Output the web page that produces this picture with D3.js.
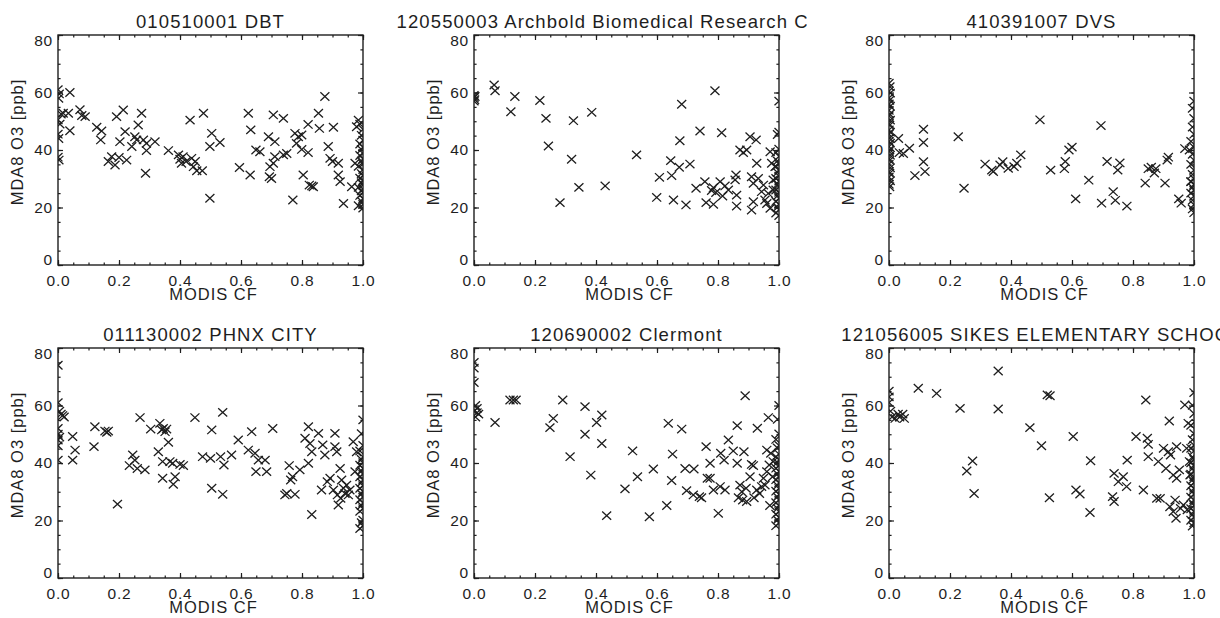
<!DOCTYPE html>
<html>
<head>
<meta charset="utf-8">
<script src="https://cdn.jsdelivr.net/npm/d3@7"></script>
<style>
  body { margin: 0; background: #fff; }
  svg text { font-family: "Liberation Sans", Arial, Helvetica, sans-serif; fill: #1e1e1e; }
  .tick-label text { font-size: 15.5px; letter-spacing: 0.8px; }
</style>
</head>
<body>
<div id="chart"></div>
<script>
// station titles, in panel order (left to right, top to bottom)
const titles = [
  "010510001 DBT",
  "120550003 Archbold Biomedical Research Center",
  "410391007 DVS",
  "011130002 PHNX CITY",
  "120690002 Clermont",
  "121056005 SIKES ELEMENTARY SCHOOL"
];

const xTicks = [0, 0.2, 0.4, 0.6, 0.8, 1.0];
const yTicks = [0, 20, 40, 60, 80];

// [MODIS CF, MDA8 O3 ppb]
const dbt = [
  [0.000,61],[0.004,59.5],[0.002,58],[0.010,52.5],[0.000,50.5],[0.006,49],[0.000,45.5],[0.002,44],[0.000,37.5],[0.003,36.5],
  [0.017,52.8],[0.034,52.8],[0.039,60],[0.039,46.7],[0.072,54],[0.078,52],[0.089,51.6],
  [0.127,47.9],[0.143,46.6],[0.140,43.5],[0.165,36],[0.176,37.7],[0.187,34.8],[0.192,51.6],[0.203,42.9],[0.200,37.4],
  [0.214,53.9],[0.220,46.4],[0.225,36.5],[0.242,41.2],[0.252,44.6],[0.263,48.7],[0.258,43.5],[0.274,52.8],[0.280,43.5],
  [0.290,42.3],[0.290,39.8],[0.287,31.9],[0.318,42.9],[0.362,39.8],[0.395,38.3],[0.400,36.8],[0.410,37.7],[0.405,35.4],
  [0.420,36],[0.433,50.4],[0.438,37.1],[0.444,34.2],[0.450,36],[0.455,32.8],[0.473,32.8],[0.477,52.8],[0.498,41.2],
  [0.498,23.2],[0.504,45.8],[0.531,42.6],[0.595,33.9],[0.624,52.8],[0.632,47],[0.630,31.3],[0.649,40],[0.662,39.4],
  [0.690,44.6],[0.693,30.7],[0.695,34.2],[0.706,52.2],[0.711,42.9],[0.711,37.7],[0.700,30.1],[0.706,35.4],[0.739,51],
  [0.739,38.3],[0.750,38.8],[0.770,22.6],[0.777,45.8],[0.788,44.6],[0.782,42.3],[0.799,45.2],[0.799,40.2],[0.804,31.3],
  [0.820,48.9],[0.820,39.1],[0.824,27.8],[0.832,27.5],[0.837,27.2],[0.854,52.8],[0.857,47.5],[0.875,58.6],[0.886,41.2],
  [0.892,37.1],[0.900,36],[0.903,47.9],[0.919,35.4],[0.919,31.3],[0.925,29],[0.936,21.4],[0.963,27.2],[0.974,35.4],
  [0.979,48.1],[0.985,50.4],
  [0.990,49],[1.000,47.2],[0.995,45.1],[1.000,43.4],[0.990,42.1],[1.000,41],[0.995,40.2],[1.000,38.8],[0.990,38.1],
  [1.000,36.9],[0.995,36.2],[1.000,35.1],[0.985,34.3],[1.000,33.2],[0.995,31.8],[1.000,31.1],[0.990,30.2],[1.000,29.4],
  [0.995,28.6],[1.000,27.9],[0.985,27],[1.000,26.4],[0.995,25.8],[1.000,25.1],[0.990,24.2],[1.000,23.1],[0.995,22.2],
  [1.000,21.1],[0.985,20.6],[1.000,19.8]
];

const archbold = [
  [0.000,59],[0.000,58.2],[0.002,57.5],[0.000,57],[0.003,58.6],
  [0.066,62.6],[0.069,60.6],[0.121,53.3],[0.134,58.6],[0.216,57.2],[0.236,51],[0.244,41.4],[0.282,21.7],[0.326,50.2],
  [0.320,36.8],[0.344,27],[0.386,53.1],[0.430,27.5],[0.533,38.3],[0.599,23.5],[0.608,30.5],[0.645,36.3],[0.648,31.1],
  [0.654,22.6],[0.673,34],[0.675,43.2],[0.681,55.9],[0.695,20.9],[0.708,35.1],[0.728,26.7],[0.741,46.6],[0.757,29],
  [0.761,21.7],[0.779,25.9],[0.785,21.1],[0.790,60.6],[0.785,26.9],[0.793,25.2],[0.807,29],[0.812,46],[0.815,24],
  [0.823,27.5],[0.834,26.1],[0.856,29.6],[0.861,20.5],[0.861,24.3],[0.859,31.3],[0.872,40],[0.883,39.1],[0.894,40],
  [0.905,44.6],[0.910,30.7],[0.910,19.1],[0.916,22],[0.916,28.4],[0.925,43.5],[0.927,35.4],[0.932,30.1],[0.943,25.5],
  [0.949,27.8],[0.954,22.6],[0.960,21.4],[0.965,24.9],[0.971,39.4],[0.971,19.7],[0.976,35.4],[0.981,29.6],[0.981,26.1],
  [0.987,34.2],
  [1.000,57],[1.000,46.2],[0.995,45.4],[1.000,40.3],[0.990,39.1],[1.000,37.8],[0.995,36.2],[1.000,35.1],[0.990,34.3],
  [1.000,33.1],[0.995,32.2],[1.000,30.9],[0.990,30.1],[1.000,29.2],[0.995,28.1],[1.000,27.2],[0.990,26.1],[1.000,25.3],
  [0.995,24.1],[1.000,23.2],[0.990,22.1],[1.000,21.2],[0.995,20.1],[1.000,19.2],[0.990,18.1],[1.000,17.2]
];

const dvs = [
  [0.000,63.2],[0.003,62],[0.000,60.5],[0.004,59.8],[0.000,58.1],[0.002,57.3],[0.000,56],[0.004,55.2],[0.000,53.8],
  [0.002,52.5],[0.000,51.9],[0.004,50.4],[0.000,49.1],[0.002,48.6],[0.000,47],[0.004,46.2],[0.000,45.5],[0.002,44.1],
  [0.000,43],[0.004,42.4],[0.000,41.2],[0.002,40.1],[0.000,39.5],[0.004,38.2],[0.000,37],[0.002,36.4],[0.000,35.1],
  [0.004,33.8],[0.000,32.5],[0.002,31.9],[0.000,30.6],[0.004,29.3],[0.000,28.1],[0.002,27.2],
  [0.031,44],[0.034,39.1],[0.047,38.8],[0.067,40.6],[0.085,31.1],[0.113,47.2],[0.113,42.6],[0.113,35.9],[0.118,32.5],
  [0.227,44.6],[0.246,26.7],[0.315,35.1],[0.337,33],[0.342,32.5],[0.364,34.8],[0.373,35.9],[0.391,33.6],[0.410,34.2],
  [0.419,35.4],[0.432,38.3],[0.495,50.5],[0.530,33],[0.575,33.5],[0.578,36],[0.590,40],[0.600,41],[0.612,23],
  [0.655,29.5],[0.695,48.5],[0.697,21.5],[0.715,36],[0.735,25.5],[0.742,22.5],[0.750,33],[0.757,35.5],[0.780,20.5],
  [0.840,28.5],[0.850,33.5],[0.860,34],[0.870,32],[0.875,33.5],[0.905,28.5],[0.912,36.5],[0.916,37.5],[0.950,23],
  [0.958,21.5],[0.970,40.5],[0.985,40],[0.990,29],
  [1.000,57],[0.995,54.5],[1.000,51],[0.995,48],[1.000,45.5],[0.990,43],[1.000,41],[0.995,38.5],[1.000,36.5],
  [0.990,35],[1.000,33],[0.995,31.5],[1.000,30],[0.990,29],[1.000,28],[0.995,27],[1.000,26],[0.990,25],[1.000,24],
  [0.995,22.5],[1.000,21],[0.995,19.5],[1.000,18.2]
];

const phnx = [
  [0.000,74],[0.000,61],[0.005,58],[0.010,57],[0.015,56.5],[0.020,56],[0.000,52],[0.000,50],[0.005,49],[0.000,48],
  [0.000,46],[0.000,41],
  [0.048,49.2],[0.048,41],[0.056,44.5],[0.118,45.7],[0.121,52.6],[0.154,51.1],[0.160,50.7],[0.165,51.1],[0.195,25.7],
  [0.234,39.1],[0.245,42.8],[0.252,41],[0.260,38.1],[0.269,55.8],[0.285,37.6],[0.304,51.8],[0.329,43.9],[0.334,53.8],
  [0.340,51.5],[0.345,52],[0.351,50.9],[0.356,51.8],[0.343,34.7],[0.343,40.5],[0.362,47.2],[0.367,40.5],[0.376,39.9],
  [0.378,32.6],[0.384,35.2],[0.400,39.5],[0.411,39.1],[0.449,55.8],[0.474,42.2],[0.500,41.6],[0.504,51.5],[0.504,31.2],
  [0.533,42.2],[0.540,57.6],[0.540,29.1],[0.544,39.3],[0.569,42.8],[0.591,48],[0.624,44.5],[0.635,50.9],[0.646,43.4],
  [0.649,37],[0.657,41],[0.679,41],[0.684,37],[0.704,52],[0.744,28.9],[0.750,29.4],[0.758,39.1],[0.763,34.1],
  [0.769,35.2],[0.777,29.1],[0.793,37.6],[0.810,48.6],[0.821,52.6],[0.821,39.9],[0.826,46.8],[0.832,43.9],[0.832,22.1],
  [0.854,50.3],[0.864,30.6],[0.868,46.3],[0.875,42.8],[0.883,33.5],[0.892,34.7],[0.903,30.6],[0.908,50.3],[0.908,45.7],
  [0.914,43.9],[0.916,28.9],[0.919,25.4],[0.925,38.1],[0.927,27.7],[0.930,34.1],[0.936,31.2],[0.941,29.4],[0.946,32.3],
  [0.952,28.9],[0.957,30.6],[0.968,47.4],[0.974,37],[0.979,43.9],
  [1.000,55],[0.995,50.2],[1.000,46.1],[0.990,44.2],[1.000,42.1],[0.995,41.2],[1.000,40.1],[0.990,39.2],[1.000,38.1],
  [0.995,37.2],[1.000,36.1],[0.990,35.2],[1.000,34.1],[0.995,33.2],[1.000,32.1],[0.990,31.2],[1.000,30.1],[0.995,29.2],
  [1.000,28.1],[0.990,27.2],[1.000,26.1],[0.995,25.2],[1.000,24.1],[0.990,23.2],[1.000,20.1],[0.995,19.2],[1.000,18.1],
  [0.990,17.2]
];

const clermont = [
  [0.000,75],[0.000,73],[0.000,68],[0.005,60],[0.010,59],[0.000,58],[0.010,57.5],[0.015,57],[0.005,56],
  [0.069,54.1],[0.118,61.9],[0.129,61.9],[0.138,61.9],[0.249,52.3],[0.260,55.5],[0.291,61.9],[0.315,42.2],[0.364,59.6],
  [0.364,50],[0.383,35.8],[0.402,54.1],[0.419,56.7],[0.419,46.8],[0.435,21.7],[0.495,31],[0.520,44.2],[0.536,35.2],
  [0.575,21.3],[0.588,37.9],[0.632,25.2],[0.637,53.8],[0.648,33.9],[0.651,43.1],[0.681,51.8],[0.692,38.1],[0.697,30.4],
  [0.721,37.9],[0.719,28.9],[0.739,28.3],[0.746,27.9],[0.761,45.7],[0.765,34.7],[0.774,34.7],[0.774,39.9],[0.785,30.6],
  [0.801,22.5],[0.807,31.8],[0.809,43.4],[0.820,41],[0.823,30.6],[0.834,48],[0.850,44.2],[0.863,53],[0.863,39.9],
  [0.872,32.3],[0.867,27.9],[0.878,30],[0.881,27.1],[0.885,43.9],[0.889,63.4],[0.892,31.2],[0.894,26.6],[0.905,35.2],
  [0.910,39.5],[0.916,39.1],[0.918,27.9],[0.927,30.6],[0.929,52.1],[0.936,29.4],[0.943,31.8],[0.949,34.7],[0.954,32.3],
  [0.960,37],[0.960,44.5],[0.965,55.8],[0.968,39.3],[0.970,25.2],[0.973,43.4],[0.979,35.2],[0.981,40.5],
  [1.000,60],[0.995,55.2],[1.000,50.1],[0.990,48.2],[1.000,46.1],[0.995,45.2],[1.000,43.1],[0.990,42.2],[1.000,41.1],
  [0.995,40.2],[1.000,39.1],[0.990,38.2],[1.000,37.1],[0.995,36.2],[1.000,35.1],[0.990,34.2],[1.000,33.1],[0.995,32.2],
  [1.000,31.1],[0.990,30.2],[1.000,29.1],[0.995,28.2],[1.000,27.1],[0.990,26.2],[1.000,25.1],[0.995,24.2],[1.000,23.1],
  [0.990,22.2],[1.000,21.1],[0.995,20.2],[1.000,19.1],[0.990,18.2]
];

const sikes = [
  [0.000,65],[0.000,63],[0.000,61],[0.005,58],[0.010,56],[0.020,55.5],[0.030,57],[0.035,56],[0.050,55.5],[0.045,57],
  [0.096,66],[0.156,64.2],[0.233,59],[0.255,37.2],[0.274,40.7],[0.279,29.4],[0.358,72],[0.358,58.8],[0.462,52.3],
  [0.500,46],[0.519,63.7],[0.528,63.4],[0.526,27.9],[0.604,49.2],[0.613,30.6],[0.626,29.2],[0.659,22.8],[0.661,40.8],
  [0.733,28.3],[0.738,26.6],[0.738,36.4],[0.752,33.5],[0.768,35.2],[0.779,31.8],[0.781,41],[0.810,49.2],[0.834,30.6],
  [0.842,61.9],[0.847,48.6],[0.850,46.5],[0.850,42.2],[0.878,27.7],[0.889,27.7],[0.883,40.5],[0.900,45.1],[0.908,38.1],
  [0.916,43.9],[0.919,54.6],[0.923,42.8],[0.921,24.8],[0.932,35.8],[0.932,23.1],[0.938,27.1],[0.941,20.8],[0.943,45.7],
  [0.943,34.7],[0.952,37.6],[0.956,24.2],[0.965,25.4],[0.970,60.2],[0.976,45.1],[0.978,23.7],[0.981,53.8],[0.985,40.5],
  [0.987,35.8],
  [1.000,64.5],[0.995,60.1],[1.000,57.2],[0.990,53.1],[1.000,50.2],[0.995,48.1],[1.000,46.2],[0.990,45.1],[1.000,44.2],
  [0.995,42.1],[1.000,41.2],[0.990,40.1],[1.000,39.2],[0.995,38.1],[1.000,37.2],[0.990,36.1],[1.000,35.2],[0.995,34.1],
  [1.000,33.2],[0.990,32.1],[1.000,31.2],[0.995,30.1],[1.000,29.2],[0.990,28.1],[1.000,27.2],[0.995,26.1],[1.000,25.2],
  [0.990,24.1],[1.000,23.2],[0.995,22.1],[1.000,21.2],[0.990,20.1],[1.000,19.2],[0.995,18.1]
];

const panels = [dbt, archbold, dvs, phnx, clermont, sikes];

// layout
const W = 1220, H = 618;
const pw = 305, ph = 230;
const colX = [58, 474, 889], rowY = [35, 348];
const windows = [[0, 403], [390, 807], [807, 1220]]; // each plot was its own window: titles get cut at the edge
const ink = "#1e1e1e";

const svg = d3.select("#chart")
  .append("svg")
    .attr("width", W)
    .attr("height", H);

const defs = svg.append("defs");
defs.append("clipPath").attr("id", "box")
  .append("rect").attr("width", pw).attr("height", ph);
windows.forEach((w, i) => {
  defs.append("clipPath").attr("id", `win${i}`)
    .append("rect").attr("x", w[0]).attr("y", 0).attr("width", w[1] - w[0]).attr("height", H);
});

const x = d3.scaleLinear().domain([0, 1]).range([0, pw]);
const y = d3.scaleLinear().domain([0, 80]).range([ph, 0]);
const xMinor = x.ticks(20);
const yMinor = y.ticks(16);

const cross = "M-4.5,-4.2L4.5,4.2M-4.5,4.2L4.5,-4.2";

panels.forEach((data, i) => {
  const col = i % 3, row = Math.floor(i / 3);
  const left = colX[col], top = rowY[row];

  // title, centred on the plot, clipped by its window
  svg.append("text")
    .attr("clip-path", `url(#win${col})`)
    .attr("x", left + pw / 2)
    .attr("y", top - 7.5)
    .attr("text-anchor", "middle")
    .style("font-size", "18.5px")
    .style("letter-spacing", "1.1px")
    .text(titles[i]);

  const g = svg.append("g")
    .attr("transform", `translate(${left},${top})`)
    .style("color", ink);

  // points
  g.append("g")
    .attr("clip-path", "url(#box)")
    .selectAll("path")
    .data(data)
    .join("path")
      .attr("transform", d => `translate(${x(d[0])},${y(d[1])})`)
      .attr("d", cross)
      .attr("fill", "none")
      .attr("stroke", ink)
      .attr("stroke-width", 1.3);

  // minor ticks on all four sides, pointing in
  const minor = [
    [d3.axisBottom(x).tickValues(xMinor), `translate(0,${ph})`],
    [d3.axisTop(x).tickValues(xMinor), "translate(0,0)"],
    [d3.axisLeft(y).tickValues(yMinor), "translate(0,0)"],
    [d3.axisRight(y).tickValues(yMinor), `translate(${pw},0)`]
  ];
  minor.forEach(([ax, tr]) => {
    g.append("g").attr("transform", tr)
      .call(ax.tickSize(-2.6).tickFormat(""))
      .call(s => s.select(".domain").remove())
      .selectAll("line").attr("stroke-width", 1.2);
  });

  // major ticks
  g.append("g").attr("transform", "translate(0,0)")
    .call(d3.axisTop(x).tickValues(xTicks).tickSize(-5).tickFormat(""))
    .call(s => s.select(".domain").remove())
    .selectAll("line").attr("stroke-width", 1.2);
  g.append("g").attr("transform", `translate(${pw},0)`)
    .call(d3.axisRight(y).tickValues(yTicks).tickSize(-5).tickFormat(""))
    .call(s => s.select(".domain").remove())
    .selectAll("line").attr("stroke-width", 1.2);

  const xa = g.append("g")
    .attr("class", "tick-label")
    .attr("transform", `translate(0,${ph})`)
    .call(d3.axisBottom(x).tickValues(xTicks).tickSize(-5).tickPadding(10).tickFormat(d3.format(".1f")))
    .call(s => s.select(".domain").remove());
  xa.selectAll("line").attr("stroke-width", 1.2);

  const ya = g.append("g")
    .attr("class", "tick-label")
    .call(d3.axisLeft(y).tickValues(yTicks).tickSize(-5).tickPadding(5))
    .call(s => s.select(".domain").remove());
  ya.selectAll("line").attr("stroke-width", 1.2);
  // end labels are pulled inside the axis range
  ya.selectAll("text").attr("y", d => d === 80 ? 5.5 : d === 0 ? -5.5 : 0);

  // plot box
  g.append("rect")
    .attr("width", pw)
    .attr("height", ph)
    .attr("fill", "none")
    .attr("stroke", ink)
    .attr("stroke-width", 1.4);

  // axis titles
  g.append("text")
    .attr("x", pw / 2 + 3)
    .attr("y", ph + 35)
    .attr("text-anchor", "middle")
    .style("font-size", "16.5px")
    .style("letter-spacing", "1px")
    .text("MODIS CF");

  g.append("text")
    .attr("transform", `translate(-35,${ph / 2 - 8}) rotate(-90)`)
    .attr("text-anchor", "middle")
    .style("font-size", "16.5px")
    .style("letter-spacing", "1px")
    .text("MDA8 O3 [ppb]");
});
</script>
</body>
</html>
